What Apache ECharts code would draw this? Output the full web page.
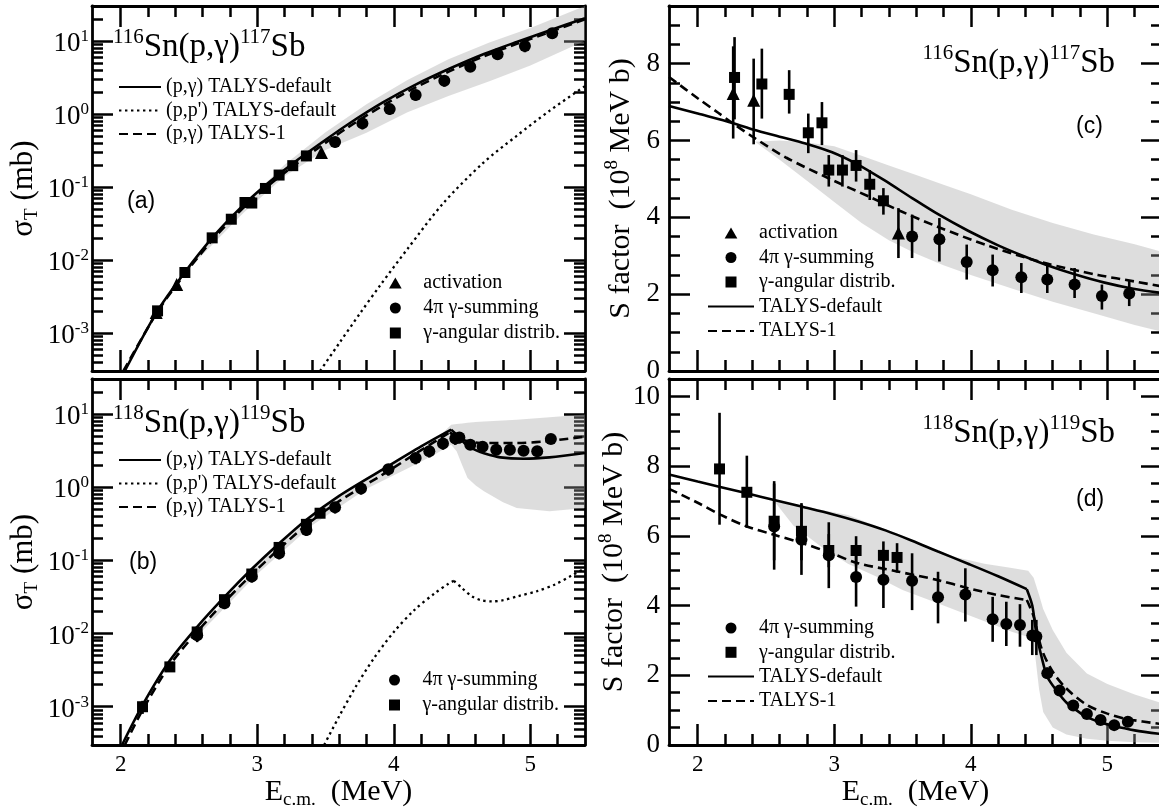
<!DOCTYPE html>
<html>
<head>
<meta charset="utf-8">
<script src="https://cdn.jsdelivr.net/npm/echarts@6/dist/echarts.min.js"></script>
<style>
  html, body { margin: 0; padding: 0; background: #fff; }
  #chart { width: 1159px; height: 809px; }
</style>
</head>
<body>
<div id="chart"></div>
<script>
// ---------- axis ranges and tick values ----------
const E_RANGE = [1.79, 5.4];
const SIGMA_RANGE = [3e-4, 30];
const S_RANGE_116 = [0, 9.5];
const S_RANGE_118 = [0, 10.5];

const eMajor = [2, 3, 4, 5];
const eMinor = [2.2, 2.4, 2.6, 2.8, 3.2, 3.4, 3.6, 3.8, 4.2, 4.4, 4.6, 4.8, 5.2];
const sigmaMajor = [1e-3, 1e-2, 1e-1, 1, 10];
const sMajor116 = [0, 2, 4, 6, 8];
const sMajor118 = [0, 2, 4, 6, 8, 10];

// ---------- 116Sn(p,g)117Sb : measured points ----------
const actE116 = [2.26, 2.41, 3.47];
const actSig116 = [1.9e-3, 4.6e-3, 0.295];
const actS116 = [7.22, 7.05, 3.59];
const actSLo116 = [6.05, 5.9, 2.94];
const actSHi116 = [8.45, 8.13, 4.24];

const angE116 = [2.27, 2.47, 2.67, 2.81, 2.91, 2.96, 3.06, 3.16, 3.26, 3.36];
const angSig116 = [2.0e-3, 6.7e-3, 2.0e-2, 3.6e-2, 6.1e-2, 6.0e-2, 9.5e-2, 0.145, 0.195, 0.265];
const angS116 = [7.64, 7.47, 7.2, 6.2, 6.46, 5.23, 5.23, 5.35, 4.86, 4.43];
const angSLo116 = [6.55, 6.57, 6.7, 5.67, 5.88, 4.8, 4.8, 4.93, 4.45, 4.07];
const angSHi116 = [8.69, 8.39, 7.83, 6.7, 7.0, 5.62, 5.62, 5.75, 5.23, 4.76];

const sumE116 = [3.57, 3.77, 3.97, 4.16, 4.37, 4.56, 4.76, 4.96, 5.16];
const sumSig116 = [0.41, 0.74, 1.16, 1.81, 2.83, 4.4, 6.56, 8.5, 12.7];
const sumS116 = [3.5, 3.43, 2.84, 2.62, 2.44, 2.38, 2.25, 1.95, 2.02];
const sumSLo116 = [2.94, 2.85, 2.38, 2.2, 2.03, 2.03, 1.9, 1.6, 1.69];
const sumSHi116 = [4.07, 3.98, 3.29, 3.03, 2.81, 2.81, 2.68, 2.25, 2.34];

// ---------- 116Sn : model curves ----------
const e116SigDefault = [2.03, 2.27, 2.47, 2.67, 2.87, 3.06, 3.26, 3.46, 3.66, 3.92, 4.16, 4.41, 4.66, 4.9, 5.16, 5.4];
const sig116Default = [3e-4, 2.0e-3, 6.76e-3, 2.0e-2, 5.0e-2, 0.105, 0.209, 0.389, 0.708, 1.43, 2.51, 4.17, 6.6, 9.66, 14.3, 20.4];
const e116SigTalys1 = [2.02, 2.27, 2.47, 2.67, 2.87, 3.06, 3.26, 3.46, 3.66, 3.92, 4.16, 4.41, 4.66, 4.9, 5.16, 5.4];
const sig116Talys1 = [3e-4, 1.95e-3, 6.4e-3, 1.86e-2, 4.6e-2, 9.6e-2, 0.19, 0.355, 0.645, 1.3, 2.3, 3.85, 6.15, 9.1, 13.6, 19.8];
const e116SigPP = [3.46, 3.6, 3.75, 3.9, 4.1, 4.36, 4.65, 4.9, 5.14, 5.4];
const sig116PP = [3e-4, 7.2e-4, 1.82e-3, 4.47e-3, 1.41e-2, 5.9e-2, 0.209, 0.5, 1.1, 2.4];
const e116SigBand = [2.45, 2.9, 3.2, 3.5, 3.8, 4.1, 4.4, 4.7, 5.0, 5.4];
const sig116BandLo = [6.1e-3, 0.044, 0.14, 0.32, 0.55, 1.05, 1.75, 2.8, 4.6, 10];
const sig116BandHi = [6.3e-3, 0.057, 0.2, 0.56, 1.35, 2.9, 5.6, 9.5, 15, 30];

const e116Default = [1.79, 2.0, 2.26, 2.41, 2.6, 2.79, 2.98, 3.17, 3.36, 3.57, 3.76, 3.98, 4.2, 4.38, 4.57, 4.76, 4.98, 5.19, 5.4];
const s116Default = [6.9, 6.7, 6.45, 6.28, 6.1, 5.92, 5.7, 5.38, 4.98, 4.5, 4.08, 3.65, 3.27, 3.0, 2.74, 2.52, 2.3, 2.14, 2.03];
const e116Talys1 = [1.79, 2.0, 2.15, 2.26, 2.41, 2.65, 2.98, 3.26, 3.48, 3.76, 4.12, 4.52, 4.93, 5.2, 5.4];
const s116Talys1 = [7.65, 7.1, 6.72, 6.44, 6.08, 5.55, 4.98, 4.53, 4.17, 3.75, 3.27, 2.83, 2.5, 2.33, 2.2];
const e116Band = [2.42, 2.6, 2.8, 3.0, 3.2, 3.4, 3.6, 3.8, 4.0, 4.3, 4.6, 4.9, 5.2, 5.4];
const s116BandLo = [5.97, 5.5, 4.95, 4.4, 3.85, 3.4, 3.05, 2.75, 2.5, 2.15, 1.8, 1.5, 1.2, 1.02];
const s116BandHi = [5.97, 6.0, 5.95, 5.85, 5.6, 5.35, 5.1, 4.85, 4.6, 4.2, 3.85, 3.55, 3.3, 3.1];

// ---------- 118Sn(p,g)119Sb : measured points ----------
const angE118 = [2.16, 2.36, 2.56, 2.76, 2.96, 3.16, 3.36, 3.46];
const angSig118 = [1.0e-3, 3.5e-3, 1.05e-2, 2.9e-2, 6.5e-2, 0.15, 0.31, 0.44];
const angS118 = [7.92, 7.25, 6.42, 6.13, 5.58, 5.58, 5.44, 5.38];
const angSLo118 = [6.32, 6.23, 5.3, 5.3, 5.1, 5.15, 5.0, 4.95];
const angSHi118 = [9.53, 8.3, 7.57, 6.94, 6.05, 5.99, 5.84, 5.79];

const sumE118 = [2.56, 2.76, 2.96, 3.16, 3.36, 3.57, 3.76, 3.96, 4.16, 4.26, 4.36, 4.45, 4.48, 4.56, 4.65, 4.75, 4.85, 4.95, 5.05, 5.15];
const sumSig118 = [9.5e-3, 2.6e-2, 6.0e-2, 0.125, 0.26, 0.53, 0.96, 1.75, 2.5, 3.1, 3.95, 4.6, 4.75, 3.8, 3.55, 3.25, 3.25, 3.15, 3.08, 4.54];
const sumS118 = [6.27, 5.89, 5.44, 4.82, 4.74, 4.71, 4.24, 4.32, 3.61, 3.47, 3.44, 3.14, 3.11, 2.06, 1.56, 1.13, 0.89, 0.72, 0.57, 0.67];
const sumSLo118 = [5.03, 4.88, 4.5, 3.97, 3.93, 3.87, 3.49, 3.54, 2.96, 2.84, 2.82, 2.58, 2.58, 1.9, 1.45, 1.05, 0.82, 0.66, 0.52, 0.6];
const sumSHi118 = [7.5, 6.9, 6.39, 5.67, 5.55, 5.5, 4.97, 5.07, 4.25, 4.11, 4.04, 3.59, 3.59, 2.22, 1.68, 1.22, 0.96, 0.78, 0.62, 0.74];

// ---------- 118Sn : model curves (the kink near 4.42 MeV is the (p,n) threshold) ----------
const e118SigDefault = [2.01, 2.16, 2.36, 2.56, 2.76, 2.96, 3.16, 3.36, 3.6, 3.92, 4.2, 4.42, 4.47, 4.53, 4.6, 4.66, 4.78, 4.95, 5.14, 5.4];
const sig118Default = [3e-4, 1.05e-3, 4.27e-3, 1.23e-2, 3.16e-2, 7.6e-2, 0.17, 0.359, 0.76, 1.75, 3.6, 6.1, 5.0, 3.8, 3.2, 2.9, 2.55, 2.44, 2.55, 2.92];
const e118SigTalys1 = [2.03, 2.16, 2.36, 2.56, 2.76, 2.96, 3.16, 3.36, 3.6, 3.92, 4.2, 4.41, 4.5, 4.66, 4.9, 5.1, 5.4];
const sig118Talys1 = [3e-4, 9.0e-4, 3.7e-3, 1.06e-2, 2.7e-2, 6.4e-2, 0.143, 0.303, 0.645, 1.49, 3.2, 5.6, 4.45, 4.0, 4.0, 4.2, 4.9];
const e118SigPP = [3.49, 3.6, 3.72, 3.85, 4.0, 4.15, 4.3, 4.4, 4.44, 4.5, 4.57, 4.64, 4.72, 4.8, 4.91, 5.05, 5.18, 5.3, 5.4];
const sig118PP = [3e-4, 7.4e-4, 1.86e-3, 4.47e-3, 1.05e-2, 2.09e-2, 3.55e-2, 4.79e-2, 5.25e-2, 4.17e-2, 3.24e-2, 2.85e-2, 2.75e-2, 2.85e-2, 3.24e-2, 3.8e-2, 4.68e-2, 6.17e-2, 7.76e-2];
const e118SigBand = [2.6, 3.0, 3.4, 3.8, 4.1, 4.3, 4.42, 4.46, 4.5, 4.54, 4.6, 4.66, 4.8, 4.9, 5.14, 5.4];
const sig118BandLo = [1.1e-2, 6.5e-2, 0.3, 0.95, 1.8, 2.8, 3.8, 3.1, 2.0, 1.33, 1.05, 0.88, 0.62, 0.52, 0.47, 0.52];
const sig118BandHi = [1.25e-2, 8.5e-2, 0.42, 1.35, 2.6, 4.3, 7.1, 7.3, 7.4, 7.6, 7.75, 7.9, 8.1, 8.3, 9.0, 9.8];

const e118Default = [1.79, 2.0, 2.36, 2.56, 2.76, 2.98, 3.17, 3.38, 3.57, 3.76, 3.98, 4.2, 4.41, 4.45, 4.48, 4.52, 4.56, 4.63, 4.7, 4.78, 4.85, 4.95, 5.04, 5.2, 5.4];
const s118Default = [7.76, 7.56, 7.22, 7.03, 6.84, 6.63, 6.42, 6.15, 5.86, 5.55, 5.2, 4.84, 4.47, 4.0, 3.2, 2.5, 1.96, 1.55, 1.22, 0.98, 0.8, 0.65, 0.55, 0.42, 0.31];
const e118Talys1 = [1.79, 2.0, 2.17, 2.36, 2.56, 2.76, 2.98, 3.17, 3.46, 3.76, 3.98, 4.2, 4.41, 4.46, 4.52, 4.6, 4.7, 4.85, 5.0, 5.15, 5.4];
const s118Talys1 = [7.35, 6.95, 6.6, 6.27, 6.03, 5.8, 5.5, 5.22, 4.98, 4.73, 4.5, 4.3, 4.16, 3.69, 2.74, 2.1, 1.62, 1.15, 0.9, 0.74, 0.6];
const e118Band = [2.55, 2.7, 2.9, 3.1, 3.3, 3.5, 3.7, 3.9, 4.1, 4.3, 4.42, 4.46, 4.5, 4.53, 4.6, 4.7, 4.85, 5.0, 5.2, 5.4];
const s118BandLo = [7.05, 6.3, 5.7, 5.2, 4.85, 4.45, 4.15, 3.85, 3.55, 3.25, 3.1, 2.95, 1.6, 0.95, 0.5, 0.3, 0.18, 0.12, 0.08, 0.06];
const s118BandHi = [7.05, 6.92, 6.75, 6.6, 6.3, 6.0, 5.65, 5.38, 5.2, 5.08, 5.0, 4.8, 4.3, 3.9, 3.3, 2.65, 2.05, 1.75, 1.45, 1.2];

// ---------- styling ----------
const SERIF = '"Liberation Serif", "DejaVu Serif", serif';
const SANS = '"Liberation Sans", "DejaVu Sans", sans-serif';
const INK = '#000';
const BAND = 'rgba(160,160,160,0.36)';
const GRIDS = [
  { left: 92, top: 6, width: 493, height: 365 },   // (a)
  { left: 92, top: 379, width: 493, height: 366 }, // (b)
  { left: 669, top: 6, width: 493, height: 365 },  // (c)
  { left: 669, top: 379, width: 493, height: 366 } // (d)
];

// minor ticks: log decades 2..9, linear every 0.5
function logMinorTicks(range) {
  const out = [];
  for (let n = -5; n <= 2; n++) {
    for (let k = 2; k <= 9; k++) {
      const v = Number((k * Math.pow(10, n)).toPrecision(3));
      if (v > range[0] * 1.01 && v < range[1] * 0.99) out.push(v);
    }
  }
  return out;
}
function halfMinorTicks(range) {
  const out = [];
  for (let v = range[0] + 0.5; v < range[1] - 0.01; v += 0.5) {
    if (Math.abs(v / 2 - Math.round(v / 2)) > 0.01) out.push(Number(v.toFixed(1)));
  }
  return out;
}
const sigmaMinor = logMinorTicks(SIGMA_RANGE);
const sMinor116 = halfMinorTicks(S_RANGE_116);
const sMinor118 = halfMinorTicks(S_RANGE_118);

const plain = (size) => ({ fontFamily: SERIF, fontSize: size, fontWeight: 'normal', color: INK });
const lineStyleAxis = { color: INK, width: 2.8 };
const majorTick = (vals) => ({ show: true, inside: true, length: 21, lineStyle: { color: INK, width: 2.5 }, customValues: vals });
const minorTick = (vals) => ({ show: true, inside: true, length: 11, lineStyle: { color: INK, width: 2.5 }, customValues: vals });

function xAxesFor(g, withLabels) {
  const base = { gridIndex: g, type: 'value', min: E_RANGE[0], max: E_RANGE[1], splitLine: { show: false } };
  const bottom = Object.assign({}, base, {
    position: 'bottom',
    axisLine: { show: true, onZero: false, lineStyle: lineStyleAxis },
    axisTick: majorTick(eMajor),
    axisLabel: {
      show: withLabels, customValues: eMajor, margin: 8,
      formatter: (v) => '{t|' + v + '}',
      rich: { t: Object.assign(plain(23), { lineHeight: 24 }) }
    }
  });
  if (withLabels) {
    Object.assign(bottom, {
      name: '{m|E}{sub|c.m.}{m|  (MeV)}',
      nameLocation: 'middle',
      nameGap: 30,
      nameTextStyle: {
        rich: {
          m: Object.assign(plain(30), { lineHeight: 34 }),
          sub: Object.assign(plain(19), { lineHeight: 16, verticalAlign: 'bottom' })
        }
      }
    });
  }
  return [
    bottom,
    Object.assign({}, base, { position: 'bottom', axisLine: { show: false, onZero: false }, axisTick: minorTick(eMinor), axisLabel: { show: false } }),
    Object.assign({}, base, { position: 'top', axisLine: { show: true, onZero: false, lineStyle: lineStyleAxis }, axisTick: majorTick(eMajor), axisLabel: { show: false } }),
    Object.assign({}, base, { position: 'top', axisLine: { show: false, onZero: false }, axisTick: minorTick(eMinor), axisLabel: { show: false } })
  ];
}

function yAxesLog(g) {
  const base = { gridIndex: g, type: 'log', logBase: 10, min: SIGMA_RANGE[0], max: SIGMA_RANGE[1], splitLine: { show: false } };
  return [
    Object.assign({}, base, {
      position: 'left',
      axisLine: { show: true, onZero: false, lineStyle: lineStyleAxis },
      axisTick: majorTick(sigmaMajor),
      axisLabel: {
        customValues: sigmaMajor,
        margin: 3,
        padding: [6, 0, 0, 0],
        formatter: (v) => '{b|10}{e|' + Math.round(Math.log10(v)) + '}',
        rich: {
          b: Object.assign(plain(27), { lineHeight: 32 }),
          e: Object.assign(plain(17), { lineHeight: 10, verticalAlign: 'top' })
        }
      },
      name: '{m|σ}{sub|T}{m| (mb)}',
      nameLocation: 'middle',
      nameRotate: 90,
      nameGap: 50,
      nameTextStyle: {
        rich: {
          m: Object.assign(plain(31), { lineHeight: 36 }),
          sub: Object.assign(plain(19), { lineHeight: 16, verticalAlign: 'bottom' })
        }
      }
    }),
    Object.assign({}, base, { position: 'left', axisLine: { show: false, onZero: false }, axisTick: minorTick(sigmaMinor), axisLabel: { show: false } }),
    Object.assign({}, base, { position: 'right', axisLine: { show: true, onZero: false, lineStyle: lineStyleAxis }, axisTick: majorTick(sigmaMajor), axisLabel: { show: false } }),
    Object.assign({}, base, { position: 'right', axisLine: { show: false, onZero: false }, axisTick: minorTick(sigmaMinor), axisLabel: { show: false } })
  ];
}

function yAxesLinear(g, range, major, minor) {
  const base = { gridIndex: g, type: 'value', min: range[0], max: range[1], splitLine: { show: false } };
  return [
    Object.assign({}, base, {
      position: 'left',
      axisLine: { show: true, onZero: false, lineStyle: lineStyleAxis },
      axisTick: majorTick(major),
      axisLabel: {
        customValues: major, margin: 9,
        formatter: (v) => '{t|' + v + '}',
        rich: { t: Object.assign(plain(27), { lineHeight: 28 }) }
      },
      name: '{m|S factor  (10}{sup|8}{m| MeV b)}',
      nameLocation: 'middle',
      nameRotate: 90,
      nameGap: 30,
      nameTextStyle: {
        rich: {
          m: Object.assign(plain(30), { lineHeight: 36 }),
          sup: Object.assign(plain(19), { lineHeight: 14, verticalAlign: 'top' })
        }
      }
    }),
    Object.assign({}, base, { position: 'left', axisLine: { show: false, onZero: false }, axisTick: minorTick(minor), axisLabel: { show: false } }),
    Object.assign({}, base, { position: 'right', axisLine: { show: true, onZero: false, lineStyle: lineStyleAxis }, axisTick: majorTick(major), axisLabel: { show: false } }),
    Object.assign({}, base, { position: 'right', axisLine: { show: false, onZero: false }, axisTick: minorTick(minor), axisLabel: { show: false } })
  ];
}

// ---------- series helpers ----------
const pairs = (xs, ys) => xs.map((x, i) => [x, ys[i]]);
const relBound = (vals, s, bound) => vals.map((v, i) => v * bound[i] / s[i]);

// A model curve; when kinkX is given it is drawn as two smooth pieces meeting at that energy,
// so the sharp corner at the threshold is kept.
function curve(g, name, xs, ys, kind, kinkX) {
  const type = kind === 'dash' ? [9, 5] : kind === 'dot' ? [2.4, 3.6] : 'solid';
  const make = (data) => ({
    type: 'line', name, xAxisIndex: 4 * g, yAxisIndex: 4 * g,
    data, symbol: 'none', smooth: 0.3,
    lineStyle: { color: INK, width: kind === 'dot' ? 2.3 : 2.6, type },
    // no point markers on the curves (also keeps the legend sample a bare line)
    itemStyle: { color: INK, opacity: 0 }, z: 3, silent: true
  });
  const all = pairs(xs, ys);
  if (kinkX === undefined) return [make(all)];
  return [make(all.filter(p => p[0] <= kinkX)), make(all.filter(p => p[0] >= kinkX))];
}
function points(g, name, xs, ys, symbol, size) {
  return {
    type: 'scatter', name, xAxisIndex: 4 * g, yAxisIndex: 4 * g,
    data: pairs(xs, ys), symbol, symbolSize: size,
    itemStyle: { color: INK, opacity: 1 }, z: 5, silent: true
  };
}
function bars(g, xs, lo, hi) {
  return {
    type: 'custom', name: 'err', xAxisIndex: 4 * g, yAxisIndex: 4 * g,
    data: xs.map((x, i) => [x, lo[i], hi[i]]),
    encode: { x: 0, y: [1, 2] },
    renderItem: (params, api) => {
      const p1 = api.coord([api.value(0), api.value(1)]);
      const p2 = api.coord([api.value(0), api.value(2)]);
      return { type: 'line', shape: { x1: p1[0], y1: p1[1], x2: p2[0], y2: p2[1] }, style: { stroke: INK, lineWidth: 2.6 } };
    },
    z: 4, silent: true
  };
}
function band(g, xs, lo, hi) {
  return {
    type: 'custom', name: 'band', xAxisIndex: 4 * g, yAxisIndex: 4 * g,
    data: xs.map((x, i) => [x, lo[i], hi[i]]),
    encode: { x: 0, y: [1, 2] },
    renderItem: (params, api) => {
      if (params.dataIndex !== 0) return null;
      const pts = [];
      for (let i = 0; i < xs.length; i++) pts.push(api.coord([xs[i], hi[i]]));
      for (let i = xs.length - 1; i >= 0; i--) pts.push(api.coord([xs[i], lo[i]]));
      return { type: 'polygon', shape: { points: pts }, style: { fill: BAND } };
    },
    z: 1, silent: true
  };
}

const N_PG_DEF = '(p,γ) TALYS-default';
const N_PP_DEF = "(p,p') TALYS-default";
const N_PG_T1 = '(p,γ) TALYS-1';
const N_ACT = 'activation';
const N_SUM = '4π γ-summing';
const N_ANG = 'γ-angular distrib.';
const N_DEF = 'TALYS-default';
const N_T1 = 'TALYS-1';

const series = [].concat(
  // (a)
  band(0, e116SigBand, sig116BandLo, sig116BandHi),
  curve(0, N_PG_DEF, e116SigDefault, sig116Default, 'solid'),
  curve(0, N_PP_DEF, e116SigPP, sig116PP, 'dot'),
  curve(0, N_PG_T1, e116SigTalys1, sig116Talys1, 'dash'),
  bars(0, sumE116, relBound(sumSig116, sumS116, sumSLo116), relBound(sumSig116, sumS116, sumSHi116)),
  bars(0, angE116, relBound(angSig116, angS116, angSLo116), relBound(angSig116, angS116, angSHi116)),
  points(0, N_ACT, actE116, actSig116, 'triangle', 13),
  points(0, N_SUM, sumE116, sumSig116, 'circle', 12),
  points(0, N_ANG, angE116, angSig116, 'rect', 11),
  // (b)
  band(1, e118SigBand, sig118BandLo, sig118BandHi),
  curve(1, N_PG_DEF, e118SigDefault, sig118Default, 'solid', 4.42),
  curve(1, N_PP_DEF, e118SigPP, sig118PP, 'dot', 4.44),
  curve(1, N_PG_T1, e118SigTalys1, sig118Talys1, 'dash', 4.41),
  bars(1, sumE118, relBound(sumSig118, sumS118, sumSLo118), relBound(sumSig118, sumS118, sumSHi118)),
  bars(1, angE118, relBound(angSig118, angS118, angSLo118), relBound(angSig118, angS118, angSHi118)),
  points(1, N_SUM, sumE118, sumSig118, 'circle', 12),
  points(1, N_ANG, angE118, angSig118, 'rect', 11),
  // (c)
  band(2, e116Band, s116BandLo, s116BandHi),
  curve(2, N_DEF, e116Default, s116Default, 'solid'),
  curve(2, N_T1, e116Talys1, s116Talys1, 'dash'),
  bars(2, actE116, actSLo116, actSHi116),
  bars(2, angE116, angSLo116, angSHi116),
  bars(2, sumE116, sumSLo116, sumSHi116),
  points(2, N_ACT, actE116, actS116, 'triangle', 13),
  points(2, N_SUM, sumE116, sumS116, 'circle', 12),
  points(2, N_ANG, angE116, angS116, 'rect', 11),
  // (d)
  band(3, e118Band, s118BandLo, s118BandHi),
  curve(3, N_DEF, e118Default, s118Default, 'solid', 4.41),
  curve(3, N_T1, e118Talys1, s118Talys1, 'dash', 4.41),
  bars(3, angE118, angSLo118, angSHi118),
  bars(3, sumE118, sumSLo118, sumSHi118),
  points(3, N_SUM, sumE118, sumS118, 'circle', 12),
  points(3, N_ANG, angE118, angS118, 'rect', 11)
);

// ---------- legends ----------
const ICON_TRIANGLE = 'path://M6,0 L12,10.4 L0,10.4 Z';
const ICON_SQUARE = 'path://M0,0 L10,0 L10,10 L0,10 Z';
const legendItem = (name) =>
  name === N_ACT ? { name, icon: ICON_TRIANGLE } :
  name === N_ANG ? { name, icon: ICON_SQUARE } : { name };
const legendText = Object.assign(plain(20), { lineHeight: 20 });
function legendBox(names, left, top, itemWidth, itemHeight, gap) {
  return {
    data: names.map(legendItem), left, top, orient: 'vertical', align: 'left', itemWidth, itemHeight, itemGap: gap,
    selectedMode: false, padding: 0, symbolKeepAspect: true, textStyle: legendText
  };
}
const legends = [
  legendBox([N_PG_DEF, N_PP_DEF, N_PG_T1], 118, 77, 42, 14, 3.5),
  legendBox([N_ACT, N_SUM, N_ANG], 389, 273, 46, 11, 5),
  legendBox([N_PG_DEF, N_PP_DEF, N_PG_T1], 118, 450, 42, 14, 3.5),
  legendBox([N_SUM, N_ANG], 389, 670, 46, 11, 5),
  legendBox([N_ACT, N_SUM, N_ANG, N_DEF, N_T1], 707, 223, 46, 11, 4.5),
  legendBox([N_SUM, N_ANG, N_DEF, N_T1], 707, 618, 46, 11, 4.3)
];

// ---------- reaction titles and panel tags ----------
const titleRich = {
  m: Object.assign(plain(33), { lineHeight: 40 }),
  sup: Object.assign(plain(21), { lineHeight: 16, verticalAlign: 'top' })
};
const tagStyle = { fontFamily: SANS, fontSize: 23, fontWeight: 'normal', color: INK };
const titles = [
  { text: '{sup|116}{m|Sn(p,γ)}{sup|117}{m|Sb}', left: 113, top: 27, padding: 0, textStyle: { fontWeight: 'normal', rich: titleRich } },
  { text: '{sup|118}{m|Sn(p,γ)}{sup|119}{m|Sb}', left: 113, top: 403, padding: 0, textStyle: { fontWeight: 'normal', rich: titleRich } },
  { text: '{sup|116}{m|Sn(p,γ)}{sup|117}{m|Sb}', right: 44, top: 43, padding: 0, textStyle: { fontWeight: 'normal', rich: titleRich } },
  { text: '{sup|118}{m|Sn(p,γ)}{sup|119}{m|Sb}', right: 44, top: 413, padding: 0, textStyle: { fontWeight: 'normal', rich: titleRich } },
  { text: '(a)', left: 127, top: 190, padding: 0, textStyle: tagStyle },
  { text: '(b)', left: 129, top: 551, padding: 0, textStyle: tagStyle },
  { text: '(c)', left: 1076, top: 115, padding: 0, textStyle: tagStyle },
  { text: '(d)', left: 1076, top: 488, padding: 0, textStyle: tagStyle }
];

const chart = echarts.init(document.getElementById('chart'), null, { renderer: 'canvas' });
chart.setOption({
  animation: false,
  backgroundColor: '#fff',
  title: titles,
  legend: legends,
  grid: GRIDS.map(g => Object.assign({ containLabel: false, outerBoundsMode: 'none' }, g)),
  xAxis: [].concat(xAxesFor(0, false), xAxesFor(1, true), xAxesFor(2, false), xAxesFor(3, true)),
  yAxis: [].concat(
    yAxesLog(0), yAxesLog(1),
    yAxesLinear(2, S_RANGE_116, sMajor116, sMinor116),
    yAxesLinear(3, S_RANGE_118, sMajor118, sMinor118)
  ),
  series
});
</script>
</body>
</html>
